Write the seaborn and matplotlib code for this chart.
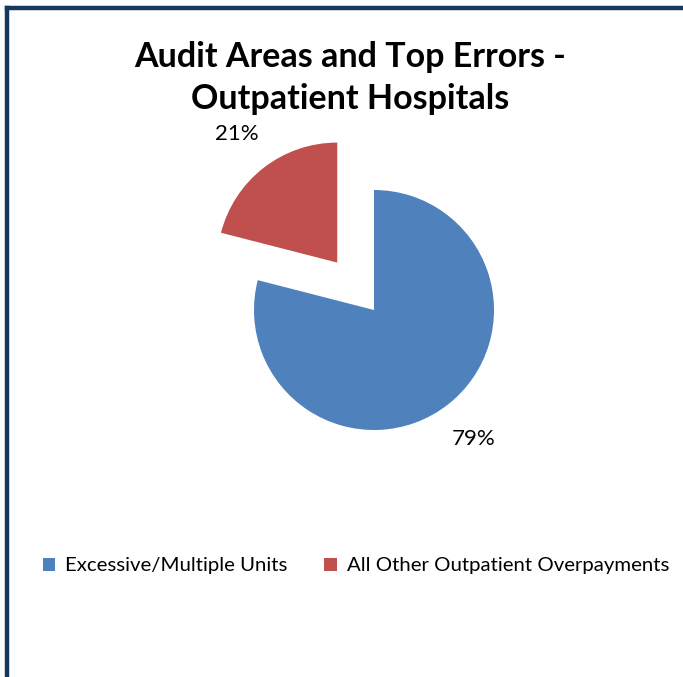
import matplotlib
matplotlib.use("Agg")
import matplotlib.pyplot as plt
from matplotlib.lines import Line2D
import seaborn as sns

categories = ["Excessive/Multiple Units", "All Other Outpatient Overpayments"]
values = [79, 21]
colors = ["#4F81BD", "#C0504D"]
title = "Audit Areas and Top Errors -\nOutpatient Hospitals"

sns.set_theme(style="white")
plt.rcParams["font.family"] = ["Lato", "DejaVu Sans"]
plt.rcParams["text.color"] = "black"

W, H = 683, 677
fig = plt.figure(figsize=(W / 100, H / 100), dpi=100)

# pie axes: center at (374, 310) px, radius 120 px -> 4 units span 480 px
cx, cy, half = 374, 310, 240
ax = fig.add_axes([(cx - half) / W, (H - (cy + half)) / H, 2 * half / W, 2 * half / H])

wedges, texts = ax.pie(
    values,
    colors=colors,
    startangle=90,
    counterclock=False,
    explode=[0, 0.5],
    radius=1,
    labels=[f"{v}%" for v in values],
    labeldistance=1.36,
    textprops=dict(fontsize=16, color="black"),
    wedgeprops=dict(linewidth=0),
)
for t in texts:
    t.set_horizontalalignment("center")
    t.set_verticalalignment("center")
ax.set_xlim(-2, 2)
ax.set_ylim(-2, 2)
ax.set_aspect("equal")
ax.axis("off")

fig.text(350 / W, 1 - 78 / H, title, ha="center", va="center", color="black",
         fontsize=24.5, fontweight="bold", linespacing=1.38)

fig.legend(wedges, categories, loc="center", bbox_to_anchor=(356 / W, 1 - 566 / H),
           ncol=2, frameon=False, fontsize=14.7, handlelength=0.6, handleheight=0.6,
           handletextpad=0.5, columnspacing=1.8, labelcolor="black")

# navy frame (left and top visible)
navy = "#17375E"
fig.add_artist(Line2D([7 / W, 7 / W], [0, 1 - 8 / H], color=navy, lw=3.2,
                      transform=fig.transFigure, solid_capstyle="projecting"))
fig.add_artist(Line2D([7 / W, 1], [1 - 8 / H, 1 - 8 / H], color=navy, lw=3.2,
                      transform=fig.transFigure, solid_capstyle="projecting"))

fig.savefig("out.png", dpi=100)
